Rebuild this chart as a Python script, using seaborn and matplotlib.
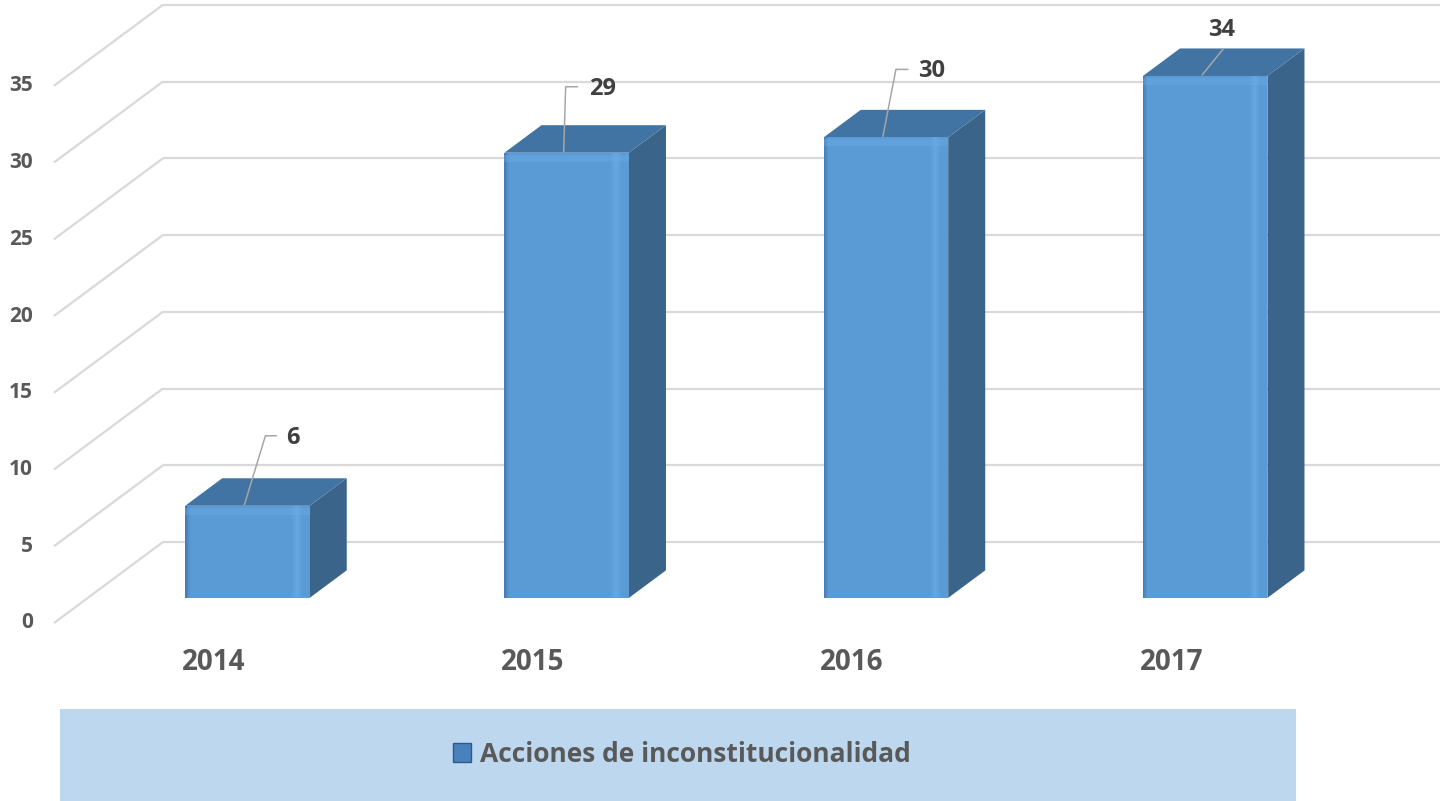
import matplotlib
matplotlib.use("Agg")
import matplotlib.pyplot as plt
from matplotlib.patches import Polygon, Rectangle, Patch
import seaborn as sns

# ---- data ----
years = ["2014", "2015", "2016", "2017"]
values = [6, 29, 30, 34]
yticks = [0, 5, 10, 15, 20, 25, 30, 35]
series_name = "Acciones de inconstitucionalidad"

# ---- style / layout constants ----
FRONT = "#5B9BD5"
SIDE = "#3A6489"
TOP = "#4274A3"
GRID = "#D9D9D9"
TXT = "#595959"
LBL = "#404040"
FONT = "Open Sans"

W, H = 1440, 801
PX_X = 319.25      # pixels per category unit
PX_Y = 15.35       # pixels per value unit
X0_PX, Y0_PX = 54, 623   # pixel of (-0.5, 0) on front plane
DX = 109 / PX_X    # depth of walls in x-data units
DY = 81 / PX_Y     # depth of walls in y-data units
F0, FD = 0.31, 0.34  # bar front depth fraction, bar depth fraction

sns.set_theme(style="white")
plt.rcParams["font.family"] = [FONT, "DejaVu Sans"]

fig = plt.figure(figsize=(W / 100, H / 100), dpi=100)
ax = fig.add_axes([0, 0, 1, 1])

sns.barplot(x=years, y=values, width=0.39, color=FRONT, saturation=1,
            edgecolor="none", ax=ax, zorder=3)

xl = -0.5 - X0_PX / PX_X
xr = xl + W / PX_X
yb = -(H - Y0_PX) / PX_Y
yt = Y0_PX / PX_Y
ax.set_xlim(xl, xr)
ax.set_ylim(yb, yt)
ax.axis("off")

# ---- walls: gridlines on side and back wall ----
for v in yticks:
    ax.plot([-0.5, -0.5 + DX], [v, v + DY], color=GRID, lw=1.6, zorder=1,
            solid_capstyle="butt")
    ax.plot([-0.5 + DX, xr + 0.1], [v + DY, v + DY], color=GRID, lw=1.6,
            zorder=1, solid_capstyle="butt")
    ax.text(-0.5 - 21 / PX_X, v, str(v), ha="right", va="center",
            fontsize=15, fontweight="bold", color=TXT)

# ---- 3D bars from seaborn patches ----
ddx, ddy = FD * DX, FD * DY
label_offsets = [  # (elbow dx, elbow dy, hook length, text dx, text dy, ha) in px
    (21, 69, 11, 42, 67, "left"),
    (2, 65, 12, 25, 63, "left"),
    (13, 67, 12, 35, 65, "left"),
    (21, 26, 0, 19, 45, "center"),
]
for i, p in enumerate(ax.patches[:len(values)]):
    w = p.get_width()
    h = p.get_height()
    x0 = p.get_x() + F0 * DX
    y0 = F0 * DY
    p.set_x(x0)
    p.set_y(y0)
    side = Polygon([(x0 + w, y0), (x0 + w + ddx, y0 + ddy),
                    (x0 + w + ddx, y0 + h + ddy), (x0 + w, y0 + h)],
                   closed=True, facecolor=SIDE, edgecolor="none", zorder=2.9)
    top = Polygon([(x0, y0 + h), (x0 + w, y0 + h),
                   (x0 + w + ddx, y0 + h + ddy), (x0 + ddx, y0 + h + ddy)],
                  closed=True, facecolor=TOP, edgecolor="none", zorder=2.9)
    ax.add_patch(side)
    ax.add_patch(top)
    # soft bevel highlights on the front face
    for k, a in enumerate([0.25, 0.45, 0.6, 0.45, 0.25]):
        ax.add_patch(Rectangle((x0 + w * (0.86 + 0.015 * k), y0), w * 0.015, h,
                               facecolor="#6CAEE8", edgecolor="none", alpha=a,
                               zorder=3.1))
    for k, a in enumerate([0.7, 0.45, 0.2]):
        ax.add_patch(Rectangle((x0 + w * 0.012 * k, y0), w * 0.012, h,
                               facecolor="#3F73A8", edgecolor="none", alpha=a,
                               zorder=3.1))
    ax.add_patch(Rectangle((x0, y0 + h - 9 / PX_Y), w, 7 / PX_Y,
                           facecolor="#6CAEE8", edgecolor="none", alpha=0.35,
                           zorder=3.1))
    # data label with leader line
    cx = x0 + w / 2 - 3 / PX_X
    cy = y0 + h + 1 / PX_Y
    ex, ey, hk, tx, ty, ha = label_offsets[i]
    xs = [cx, cx + ex / PX_X]
    ys = [cy, cy + ey / PX_Y]
    if hk:
        xs.append(cx + (ex + hk) / PX_X)
        ys.append(cy + ey / PX_Y)
    ax.plot(xs, ys, color="#A6A6A6", lw=1.1, zorder=4)
    ax.text(cx + tx / PX_X, cy + ty / PX_Y, str(values[i]), ha=ha, va="center",
            fontsize=17, fontweight="bold", color=LBL, zorder=5)

# ---- category labels ----
for i, yr in enumerate(years):
    ax.text(i, -(662 - Y0_PX) / PX_Y, yr, ha="center", va="center",
            fontsize=20, fontweight="bold", color=TXT)

# ---- legend ----
fig.patches.append(Rectangle((60 / W, 0), (1296 - 60) / W, (H - 709) / H,
                             transform=fig.transFigure, facecolor="#BDD7EE",
                             edgecolor="none", zorder=0))
handle = Patch(facecolor="#4A80BB", edgecolor="#2F5A88", linewidth=1)
fig.legend(handles=[handle], labels=[series_name], loc="center",
           bbox_to_anchor=(682 / W, 1 - 754 / H), frameon=False,
           handlelength=0.7, handleheight=0.7,
           handletextpad=0.35, borderpad=0,
           prop={"family": [FONT, "DejaVu Sans"], "weight": "bold", "size": 19},
           labelcolor=TXT)

fig.savefig("out.png", dpi=100)
